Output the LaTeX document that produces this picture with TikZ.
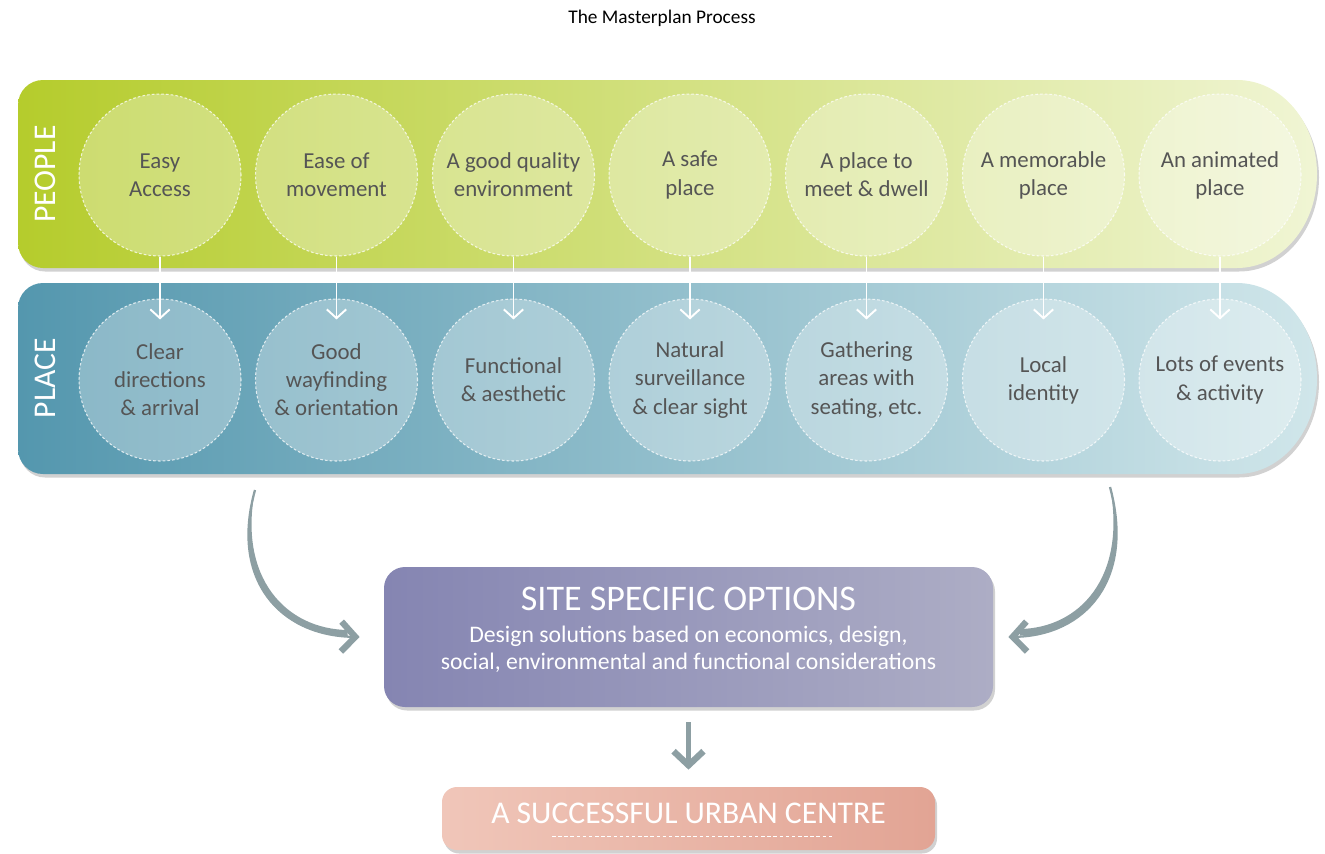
\documentclass[tikz,border=0pt]{standalone}
\usepackage{fontspec}
\setmainfont{Carlito}
\usetikzlibrary{arrows.meta,shadows}

\definecolor{peopleL}{HTML}{B5CC2C}
\definecolor{peopleM}{HTML}{CFE063}
\definecolor{peopleR}{HTML}{F0F5D4}
\definecolor{placeL}{HTML}{5497AE}
\definecolor{placeM}{HTML}{7EB5C5}
\definecolor{placeR}{HTML}{D0E6EA}
\definecolor{optL}{HTML}{8585B2}
\definecolor{optR}{HTML}{ADADC5}
\definecolor{urbL}{HTML}{F0C6B9}
\definecolor{urbR}{HTML}{E2A494}
\definecolor{flowgrey}{HTML}{8D9FA3}
\definecolor{txtgrey}{HTML}{555555}

\begin{document}
\begin{tikzpicture}[
    softshadow/.style={drop shadow={shadow xshift=0.04cm, shadow yshift=-0.07cm, fill=black!18, opacity=1}},
    aim/.style={circle, minimum size=3.24cm, inner sep=0pt, fill=white, fill opacity=0.3,
        text opacity=1, draw=white, draw opacity=0.75, dash pattern=on 1.5pt off 1.2pt,
        line width=0.6pt, text=txtgrey, align=center, font=\fontsize{13}{16}\selectfont},
    sidelabel/.style={rotate=90, text=white, font=\fontsize{18}{20}\selectfont},
    link/.style={draw=white, line width=1.1pt, -{Straight Barb[length=5pt, width=11pt]}},
    flow/.style={draw=flowgrey, line width=1.3pt, -{Straight Barb[length=8pt, width=17pt, line width=3.6pt]}},
    bigflow/.style={draw=flowgrey, line width=3.4pt, -{Straight Barb[length=8pt, width=17pt, line width=3.6pt]}},
]
\useasboundingbox (0,0) rectangle (26.5,-17.06);

\node (title) at (13.24,-0.36) {\fontsize{11}{13}\selectfont The Masterplan Process};

% the two bands
\path[softshadow, left color=peopleL, middle color=peopleM, right color=peopleR]
    (0.86,-1.6) -- (24.74,-1.6) arc[start angle=90, end angle=-90, x radius=1.6, y radius=1.88]
    -- (0.86,-5.36) arc[start angle=270, end angle=180, radius=0.5]
    -- (0.36,-2.1) arc[start angle=180, end angle=90, radius=0.5] -- cycle;
\path[softshadow, left color=placeL, middle color=placeM, right color=placeR]
    (0.86,-5.66) -- (24.74,-5.66) arc[start angle=90, end angle=-90, x radius=1.6, y radius=1.91]
    -- (0.86,-9.48) arc[start angle=270, end angle=180, radius=0.5]
    -- (0.36,-6.16) arc[start angle=180, end angle=90, radius=0.5] -- cycle;

\node[sidelabel] (peoplelbl) at (0.9,-3.48) {PEOPLE};
\node[sidelabel] (placelbl) at (0.9,-7.56) {PLACE};

% people
\node[aim] (p1) at (3.20,-3.5) {Easy\\Access};
\node[aim] (p2) at (6.73,-3.5) {Ease of\\movement};
\node[aim] (p3) at (10.27,-3.5) {A good quality\\environment};
\node[aim] (p4) at (13.80,-3.5) {A safe\\place};
\node[aim] (p5) at (17.33,-3.5) {A place to\\meet \& dwell};
\node[aim] (p6) at (20.87,-3.5) {A memorable\\place};
\node[aim] (p7) at (24.40,-3.5) {An animated\\place};

% place
\node[aim] (q1) at (3.20,-7.6) {Clear\\directions\\\& arrival};
\node[aim] (q2) at (6.73,-7.6) {Good\\wayfinding\\\& orientation};
\node[aim] (q3) at (10.27,-7.6) {Functional\\\& aesthetic};
\node[aim] (q4) at (13.80,-7.6) {Natural\\surveillance\\\& clear sight};
\node[aim] (q5) at (17.33,-7.6) {Gathering\\areas with\\seating, etc.};
\node[aim] (q6) at (20.87,-7.6) {Local\\identity};
\node[aim] (q7) at (24.40,-7.6) {Lots of events\\\& activity};

\draw[link] (p1.south) -- ([yshift=-0.42cm]q1.north);
\draw[link] (p2.south) -- ([yshift=-0.42cm]q2.north);
\draw[link] (p3.south) -- ([yshift=-0.42cm]q3.north);
\draw[link] (p4.south) -- ([yshift=-0.42cm]q4.north);
\draw[link] (p5.south) -- ([yshift=-0.42cm]q5.north);
\draw[link] (p6.south) -- ([yshift=-0.42cm]q6.north);
\draw[link] (p7.south) -- ([yshift=-0.42cm]q7.north);

% options and outcome
\node[softshadow, rectangle, rounded corners=0.42cm, minimum width=12.18cm, minimum height=2.8cm,
    left color=optL, right color=optR] (opt) at (13.77,-12.74) {};
\node[text=white, font=\fontsize{20.5}{24}\selectfont] (opthead) at ([yshift=-0.64cm]opt.north) {SITE SPECIFIC OPTIONS};
\node[text=white, align=center, font=\fontsize{13.5}{15.5}\selectfont] (optsub) at ([yshift=-0.24cm]opt.center)
    {Design solutions based on economics, design,\\social, environmental and functional considerations};

\node[softshadow, rectangle, rounded corners=0.3cm, minimum width=9.86cm, minimum height=1.26cm,
    left color=urbL, right color=urbR] (urban) at (13.77,-16.37) {};
\node[text=white, font=\fontsize{18}{21}\selectfont] (urbantxt) at ([yshift=0.1cm]urban.center) {A SUCCESSFUL URBAN CENTRE};
\draw[white, line width=0.5pt, dash pattern=on 2pt off 1.5pt] (11.04,-16.72) -- (16.64,-16.72);

% curved feeds, thickening towards the head
\coordinate (lstart) at (5.1,-9.8);
\coordinate (rstart) at (22.2,-9.74);
\fill[flowgrey] (lstart) .. controls (4.6,-11.6) and (5.6,-12.7) .. (6.95,-12.73)
    -- (6.95,-12.6) .. controls (5.72,-12.58) and (4.76,-11.56) .. (lstart);
\fill[flowgrey] (rstart) .. controls (22.7,-11.6) and (21.7,-12.7) .. (20.4,-12.71)
    -- (20.4,-12.58) .. controls (21.58,-12.56) and (22.54,-11.56) .. (rstart);
\draw[flow] (lstart) .. controls (4.6,-11.6) and (5.6,-12.7) .. ([xshift=-0.48cm]opt.west);
\draw[flow] (rstart) .. controls (22.7,-11.6) and (21.7,-12.7) .. ([xshift=0.3cm]opt.east);
\draw[bigflow] ([yshift=-0.3cm]opt.south) -- ([yshift=0.34cm]urban.north);
\end{tikzpicture}
\end{document}
